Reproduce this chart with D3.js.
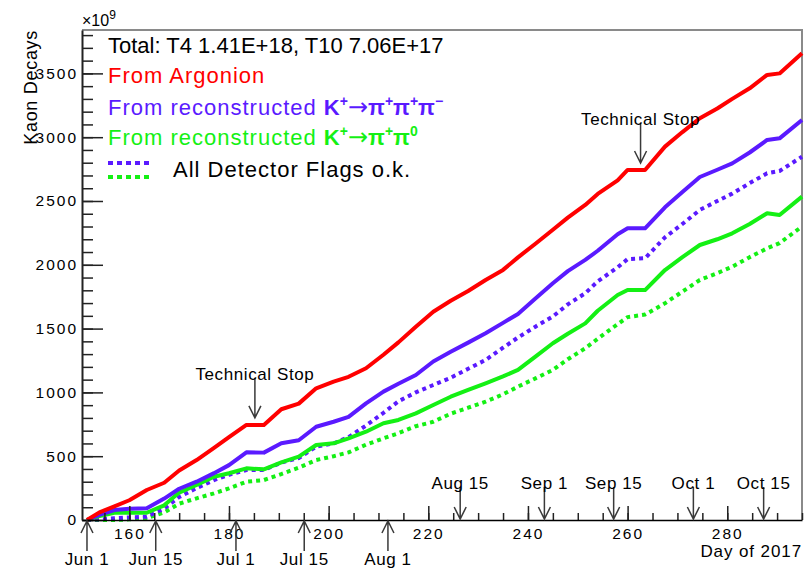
<!DOCTYPE html>
<html>
<head>
<meta charset="utf-8">
<script src="https://cdn.jsdelivr.net/npm/d3@7"></script>
<style>
  body { margin: 0; background: #fff; }
  svg  { font-family: "Liberation Sans", Arial, sans-serif; }
</style>
</head>
<body>
<div id="chart"></div>
<script>
// ── Data (day of 2017, kaon decays in units of 1e9) ─────────────────────────
const days = [151.5, 154, 157, 160, 163.5, 167, 170, 173.5, 177, 180, 183.5, 187,
  190.5, 194, 197.5, 201, 204, 207.5, 211, 214, 217.5, 221, 224.5, 228, 231.5,
  235, 238, 241.5, 245, 248, 251.5, 254, 258, 260, 263.5, 267.5, 271, 274.5,
  278, 281, 284.5, 288, 290.5, 295];

const argonion = [0, 60, 106, 155, 235, 292, 388, 470, 565, 650, 745, 745,
  868, 912, 1032, 1085, 1122, 1189, 1295, 1392, 1515, 1632, 1718, 1795, 1881,
  1960, 2058, 2165, 2275, 2370, 2469, 2555, 2662, 2743, 2743, 2926, 3040, 3148,
  3225, 3300, 3383, 3488, 3500, 3657];

const k3pi = [0, 40, 78, 88, 92, 168, 245, 300, 367, 430, 530, 528,
  601, 625, 731, 770, 808, 914, 1006, 1068, 1136, 1242, 1318, 1390, 1463,
  1545, 1615, 1735, 1855, 1950, 2038, 2110, 2240, 2286, 2286, 2450, 2570, 2688,
  2745, 2795, 2880, 2978, 2991, 3135];

const k3piFlags = [0, 5, 13, 20, 26, 90, 180, 250, 313, 355, 392, 392,
  450, 485, 575, 600, 650, 740, 840, 930, 1000, 1058, 1115, 1185, 1254,
  1350, 1430, 1515, 1595, 1690, 1777, 1870, 1980, 2045, 2051, 2215, 2320, 2430,
  2500, 2558, 2640, 2717, 2735, 2847];

const k2pi = [0, 30, 57, 57, 57, 115, 215, 274, 339, 366, 405, 397,
  452, 496, 588, 601, 640, 692, 758, 784, 836, 901, 966, 1020, 1071,
  1125, 1176, 1280, 1385, 1460, 1541, 1640, 1763, 1802, 1802, 1959, 2060, 2155,
  2200, 2247, 2320, 2404, 2390, 2534];

const k2piFlags = [0, 0, 0, 5, 15, 60, 128, 170, 209, 248, 300, 313,
  360, 410, 470, 500, 530, 590, 640, 680, 735, 770, 833, 880, 927,
  985, 1045, 1110, 1176, 1260, 1346, 1420, 1535, 1590, 1610, 1698, 1790, 1881,
  1935, 1985, 2060, 2129, 2170, 2300];

const yTicks = [0, 500, 1000, 1500, 2000, 2500, 3000, 3500];
const xTicks = [160, 180, 200, 220, 240, 260, 280];

const datesBelow     = ['Jun 1', 'Jun 15', 'Jul 1', 'Jul 15', 'Aug 1'];
const datesBelowDays = [151.5, 165.3, 181.4, 195.1, 211.9];
const datesAbove     = ['Aug 15', 'Sep 1', 'Sep 15', 'Oct 1', 'Oct 15'];
const datesAboveDays = [226.4, 243.3, 257.2, 273.2, 287.3];

const stopDays = [185.2, 262.6];

// ── Setup ────────────────────────────────────────────────────────────────────
const W = 805, H = 570;
const svg = d3.select('#chart').append('svg').attr('width', W).attr('height', H);

const x = d3.scaleLinear().domain([150.5, 295]).range([82, 802]);
const y = d3.scaleLinear().domain([0, 3840]).range([520, 30]);

const RED = '#ff0000', BLUE = '#5a1aff', GREEN = '#14f014', ARROW = '#3a3a3a';

// frame (top + right)
svg.append('path')
  .attr('d', `M${x.range()[0]},${y.range()[1]}H${x.range()[1]}V${y.range()[0]}`)
  .attr('fill', 'none').attr('stroke', '#8a8a8a').attr('stroke-width', 2);

// ── Curves ───────────────────────────────────────────────────────────────────
const line = d3.line().x((d, i) => x(days[i])).y(d => y(d));

const series = [
  { v: k2piFlags, c: GREEN, dash: '4,4' },
  { v: k3piFlags, c: BLUE,  dash: '4,4' },
  { v: k2pi,      c: GREEN, dash: null },
  { v: k3pi,      c: BLUE,  dash: null },
  { v: argonion,  c: RED,   dash: null },
];

svg.append('g').selectAll('path')
  .data(series)
  .join('path')
  .attr('d', d => line(d.v))
  .attr('fill', 'none')
  .attr('stroke', d => d.c)
  .attr('stroke-width', 4)
  .attr('stroke-linejoin', 'round')
  .attr('stroke-dasharray', d => d.dash);

// ── Axes ─────────────────────────────────────────────────────────────────────
const tickFont = g => g.selectAll('text')
  .attr('fill', '#000').attr('font-size', 15.5).attr('letter-spacing', 2)
  .attr('font-family', '"Liberation Sans", Arial, sans-serif');

svg.append('g').attr('transform', `translate(${x.range()[0]},0)`)
  .call(d3.axisLeft(y).tickValues(d3.range(0, 3801, 100)).tickSize(-11).tickSizeOuter(0).tickFormat(''))
  .call(g => g.select('.domain').remove())
  .call(g => g.selectAll('line').attr('stroke', '#222').attr('stroke-width', 1.5));

svg.append('g').attr('transform', `translate(${x.range()[0]},0)`)
  .call(d3.axisLeft(y).tickValues(yTicks).tickSize(-21).tickSizeOuter(0).tickPadding(4)
    .tickFormat(d3.format('d')))
  .call(g => g.select('.domain').attr('stroke', '#222').attr('stroke-width', 2))
  .call(g => g.selectAll('line').attr('stroke', '#222').attr('stroke-width', 1.5))
  .call(tickFont);

svg.append('g').attr('transform', `translate(0,${y.range()[0]})`)
  .call(d3.axisBottom(x).tickValues(d3.range(155, 296, 5)).tickSize(-7).tickSizeOuter(0).tickFormat(''))
  .call(g => g.select('.domain').remove())
  .call(g => g.selectAll('line').attr('stroke', '#222').attr('stroke-width', 1.5));

svg.append('g').attr('transform', `translate(0,${y.range()[0]})`)
  .call(d3.axisBottom(x).tickValues(xTicks).tickSize(-14).tickSizeOuter(0).tickPadding(8)
    .tickFormat(d3.format('d')))
  .call(g => g.select('.domain').attr('stroke', '#000').attr('stroke-width', 1.5))
  .call(g => g.selectAll('line').attr('stroke', '#222').attr('stroke-width', 1.5))
  .call(tickFont);

// axis titles
svg.append('text')
  .attr('transform', `translate(37,${y.range()[1]}) rotate(-90)`)
  .attr('text-anchor', 'end').attr('font-size', 18).attr('letter-spacing', 0.7)
  .text('Kaon Decays');

svg.append('text')
  .attr('x', x.range()[1]).attr('y', 557)
  .attr('text-anchor', 'end').attr('font-size', 17).attr('letter-spacing', 0.9)
  .text('Day of 2017');

const mult = svg.append('text').attr('x', 82).attr('y', 26).attr('font-size', 16);
mult.append('tspan').text('\u00d710');
mult.append('tspan').attr('dy', -7).attr('font-size', 12).text('9');

// ── Arrows ───────────────────────────────────────────────────────────────────
function arrow(xp, yTail, yTip) {
  const dir = yTip > yTail ? 1 : -1;
  const hw = 6, hl = 12;
  svg.append('path')
    .attr('d', `M${xp},${yTail}V${yTip}M${xp - hw},${yTip - dir * hl}L${xp},${yTip}L${xp + hw},${yTip - dir * hl}`)
    .attr('fill', 'none').attr('stroke', ARROW).attr('stroke-width', 1.5);
}

const y0 = y(0);
datesBelow.forEach((lab, i) => {
  const xp = x(datesBelowDays[i]);
  arrow(xp, y0 + 31, y0 + 1);
  svg.append('text').attr('x', xp).attr('y', y0 + 45)
    .attr('text-anchor', 'middle').attr('font-size', 17).attr('letter-spacing', 0.6)
    .text(lab);
});

datesAbove.forEach((lab, i) => {
  const xp = x(datesAboveDays[i]);
  arrow(xp, y0 - 33, y0 - 1);
  svg.append('text').attr('x', xp).attr('y', y0 - 31)
    .attr('text-anchor', 'middle').attr('font-size', 17).attr('letter-spacing', 0.6)
    .text(lab);
});

stopDays.forEach(d => {
  const xp = x(d);
  const i = d3.bisectLeft(days, d);
  const yTip = y(argonion[i]) - 7;
  arrow(xp, yTip - 40, yTip);
  svg.append('text').attr('x', xp).attr('y', yTip - 38)
    .attr('text-anchor', 'middle').attr('font-size', 17).attr('letter-spacing', 0.6)
    .text('Technical Stop');
});

// ── Legend ───────────────────────────────────────────────────────────────────
const LX = 108;
svg.append('text').attr('x', LX).attr('y', 53).attr('font-size', 22)
  .text('Total: T4 1.41E+18, T10 7.06E+17');

svg.append('text').attr('x', LX).attr('y', 83).attr('font-size', 22)
  .attr('letter-spacing', 1).attr('fill', RED)
  .text('From Argonion');

function decayLabel(yPos, color, parts) {
  const t = svg.append('text').attr('x', LX).attr('y', yPos).attr('font-size', 22).attr('fill', color);
  t.append('tspan').attr('letter-spacing', 1).text('From reconstructed  ');
  let raised = false;
  parts.forEach(p => {
    const s = t.append('tspan').attr('font-weight', 'bold').text(p.t);
    if (p.arrow) {
      s.attr('font-weight', 'normal').attr('font-family', '"DejaVu Sans", sans-serif')
        .attr('font-size', 24);
    }
    if (p.sup && !raised) { s.attr('dy', -9).attr('font-size', 14); raised = true; }
    else if (!p.sup && raised) { s.attr('dy', 9); raised = false; }
    else if (p.sup) s.attr('font-size', 14);
  });
}

decayLabel(115, BLUE, [
  { t: 'K' }, { t: '+', sup: true }, { t: '\u2192', arrow: true },
  { t: '\u03c0' }, { t: '+', sup: true }, { t: '\u03c0' }, { t: '+', sup: true },
  { t: '\u03c0' }, { t: '\u2212', sup: true }
]);
decayLabel(145, GREEN, [
  { t: 'K' }, { t: '+', sup: true }, { t: '\u2192', arrow: true },
  { t: '\u03c0' }, { t: '+', sup: true }, { t: '\u03c0' }, { t: '0', sup: true }
]);

[[163, BLUE], [177, GREEN]].forEach(([yy, c]) => {
  svg.append('line').attr('x1', LX).attr('x2', LX + 44).attr('y1', yy).attr('y2', yy)
    .attr('stroke', c).attr('stroke-width', 4).attr('stroke-dasharray', '5,4');
});
svg.append('text').attr('x', 173).attr('y', 177).attr('font-size', 22)
  .attr('letter-spacing', 1)
  .text('All Detector Flags o.k.');
</script>
</body>
</html>
